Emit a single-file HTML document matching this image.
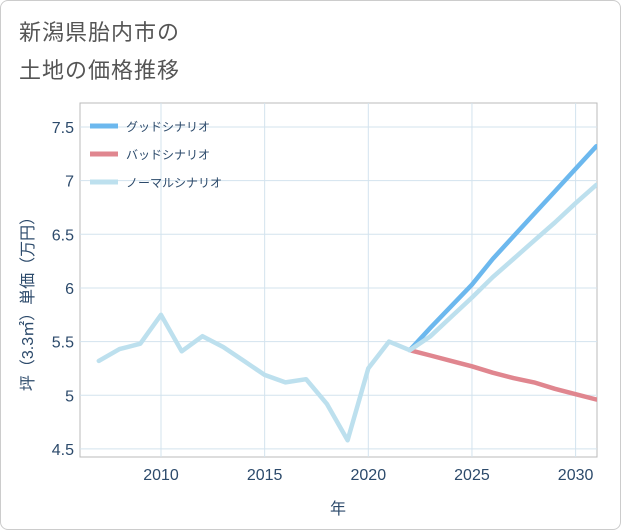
<!DOCTYPE html>
<html><head><meta charset="utf-8">
<style>
body{margin:0;background:#fff;font-family:"Liberation Sans","Noto Sans CJK JP",sans-serif;}
#wrap{position:relative;width:619px;height:528px;border:1px solid #ccc;border-radius:8px;overflow:hidden;background:#fff}
.title{position:absolute;left:18px;font-size:22px;color:#555;letter-spacing:1px}
</style></head><body>
<div id="wrap">
<div class="title" style="top:14px">新潟県胎内市の</div>
<div class="title" style="top:52px">土地の価格推移</div>
<svg id="chart" width="621" height="530" style="position:absolute;left:-1px;top:-1px"></svg>
</div>
<script>
const yearsHist=[2007,2008,2009,2010,2011,2012,2013,2014,2015,2016,2017,2018,2019,2020,2021,2022];
const normalHist=[5.32,5.43,5.48,5.75,5.41,5.55,5.45,5.32,5.19,5.12,5.15,4.92,4.58,5.25,5.50,5.42];
const yearsFut=[2022,2023,2024,2025,2026,2027,2028,2029,2030,2031];
const goodVals=[5.42,5.63,5.83,6.03,6.27,6.48,6.69,6.90,7.11,7.32];
const normalVals=[5.42,5.55,5.73,5.91,6.10,6.27,6.44,6.61,6.79,6.96];
const badVals=[5.42,5.37,5.32,5.27,5.21,5.16,5.12,5.06,5.01,4.96];
const xTicks=[2010,2015,2020,2025,2030];
const yTicks=[4.5,5,5.5,6,6.5,7,7.5];
const yTickLabels=["4.5","5","5.5","6","6.5","7","7.5"];
const legendNames=["グッドシナリオ","バッドシナリオ","ノーマルシナリオ"];

const L=80,R=597,T=103,B=457;
const x=v=>161+(v-2010)*20.73;
const y=v=>127+(7.5-v)*107.3;
const svg=document.getElementById('chart');
const NS='http://www.w3.org/2000/svg';
function mk(tag,attrs,parent){const e=document.createElementNS(NS,tag);for(const k in attrs)e.setAttribute(k,attrs[k]);(parent||svg).appendChild(e);return e;}

const frame=mk('rect',{x:L,y:T,width:R-L,height:B-T,fill:'none',stroke:'#bbb'});


xTicks.forEach(t=>{
 const g=mk('line',{x1:x(t),x2:x(t),y1:T,y2:B,stroke:'#d3e3ee'});
 
 
 const tx=mk('text',{x:x(t),y:480,'text-anchor':'middle','font-size':16,fill:'#2c4a6b'});tx.textContent=t;
 
 
});
yTicks.forEach((t,i)=>{
 const g=mk('line',{x1:L,x2:R,y1:y(t),y2:y(t),stroke:'#d3e3ee'});
 
 
 const tx=mk('text',{x:74,y:y(t)+6,'text-anchor':'end','font-size':16,fill:'#2c4a6b'});tx.textContent=yTickLabels[i];
 
 
});
const xt=mk('text',{x:338,y:514,'text-anchor':'middle','font-size':16,fill:'#2c4a6b'});xt.textContent='年';


const yt=mk('text',{x:0,y:0,'text-anchor':'middle','font-size':16,fill:'#2c4a6b',transform:'translate(33,300) rotate(-90)'});yt.textContent='坪（3.3㎡）単価（万円）';



function line(xs,vs,color,name){
 const d=xs.map((v,i)=>(i?'L':'M')+x(v).toFixed(1)+','+y(vs[i]).toFixed(1)).join('');
 const p=mk('path',{d:d,fill:'none',stroke:color,'stroke-width':4.5,'stroke-linejoin':'round','stroke-linecap':'round','clip-path':'url(#clip)'});
 
 
}
const defs=mk('defs',{});const cp=mk('clipPath',{id:'clip'},defs);mk('rect',{x:L,y:T,width:R-L,height:B-T},cp);
line(yearsFut,badVals,'#e0868f','bad-scenario-line');
line(yearsFut,goodVals,'#6cb8ee','good-scenario-line');
line(yearsHist,normalHist,'#bde0ee','normal-history-line');
line(yearsFut,normalVals,'#bde0ee','normal-scenario-line');

const lc=['#6cb8ee','#e0868f','#bde0ee'];
legendNames.forEach((n,i)=>{
 const yy=126+i*28;
 const l=mk('line',{x1:90,x2:118,y1:yy,y2:yy,stroke:lc[i],'stroke-width':5});
 
 
 const t=mk('text',{x:126,y:yy+5,'font-size':12,fill:'#2c4a6b'});t.textContent=n;
 
 
});
</script>
</body></html>
